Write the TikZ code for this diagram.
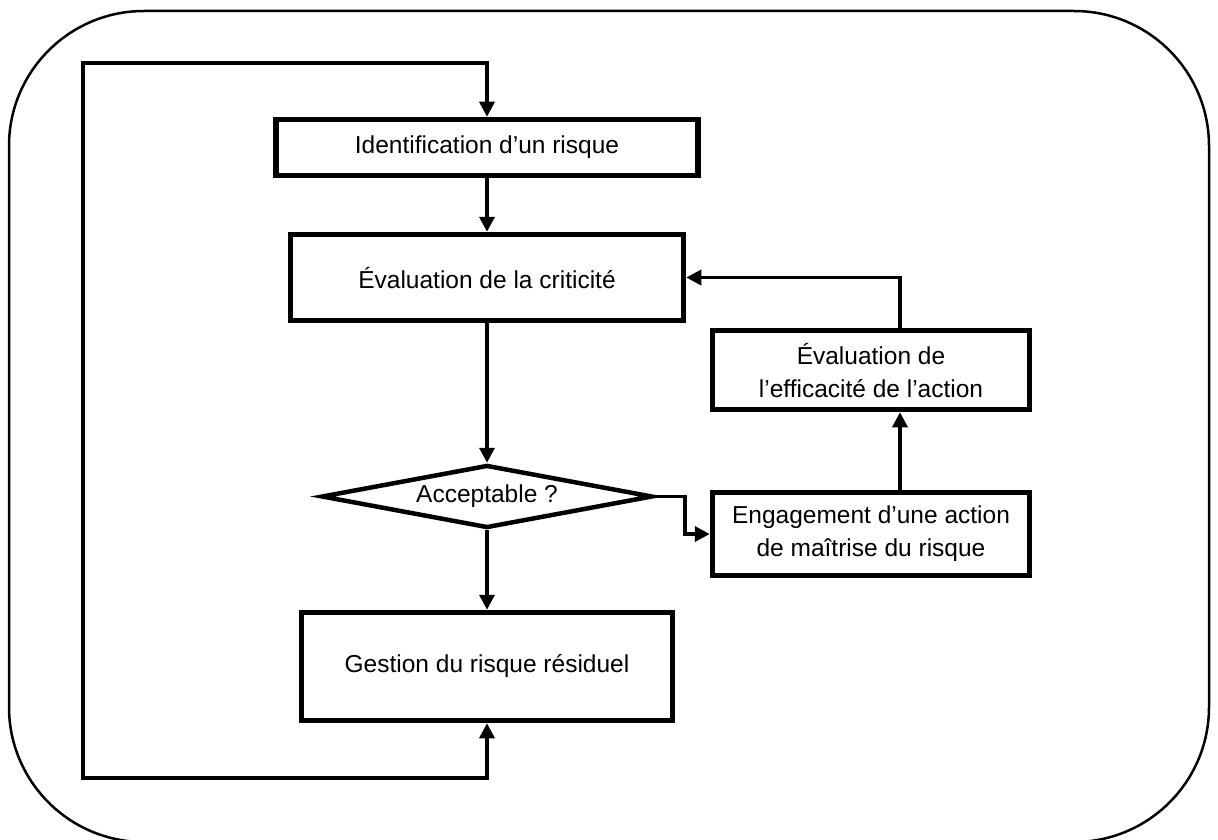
\documentclass[tikz,border=0pt]{standalone}
\usepackage{fontspec}
\setmainfont{Liberation Sans}
\usetikzlibrary{arrows.meta,shapes.geometric}
\begin{document}
\begin{tikzpicture}[x=1pt,y=-1pt,
  txt/.style={font=\fontsize{24.5}{33}\selectfont, align=center, text=black},
  box/.style={txt, draw, line width=5.5pt, inner sep=0pt},
  decision/.style={txt, draw, diamond, aspect=5, line width=4.5pt, inner sep=0pt},
  tip/.tip={Triangle[length=15pt,width=15pt]},
  link/.style={line width=3.5pt, -tip},
  frame/.style={line width=2.5pt, rounded corners=135pt},
]
\useasboundingbox (0,0) rectangle (1218,840);

% rounded frame around the whole chart
\draw[frame] (9,11) rectangle (1209,842);

% main column
\node[box, minimum width=422pt, minimum height=56pt] (ident) at (487,147.5) {Identification d’un risque};
\node[box, minimum width=393pt, minimum height=86pt] (crit) at (487,277.5) {Évaluation de la criticité};
\node[decision, minimum width=331pt, minimum height=63pt] (acc) at (487,496.5) {Acceptable ?};
\node[box, minimum width=371pt, minimum height=108pt] (gest) at (487,666.5) {Gestion du risque résiduel};

% corrective loop on the right
\node[box, minimum width=317pt, minimum height=83pt] (eng) at (871,534) {Engagement d’une action\\de maîtrise du risque};
\node[box, minimum width=317pt, minimum height=79pt] (eff) at (871,370) {Évaluation de\\l’efficacité de l’action};

% corners of the outer return line
\coordinate (tl) at (83,63);
\coordinate (bl) at (83,778);

\draw[link] (ident) -- (crit);
\draw[link] (crit) -- (acc);
\draw[link] (acc) -- (gest);
\draw[link] (acc.east) -- ++(30,0) |- (eng.west);
\draw[link] ([xshift=29pt]eng.north) -- ([xshift=29pt]eff.south);
\draw[link] ([xshift=29pt]eff.north) |- (crit.east);

% return line from residual risk management back to identification
\draw[line width=3.5pt, tip-tip]
  (gest.south) |- (bl) -- (tl) -| (ident.north);
\end{tikzpicture}
\end{document}
